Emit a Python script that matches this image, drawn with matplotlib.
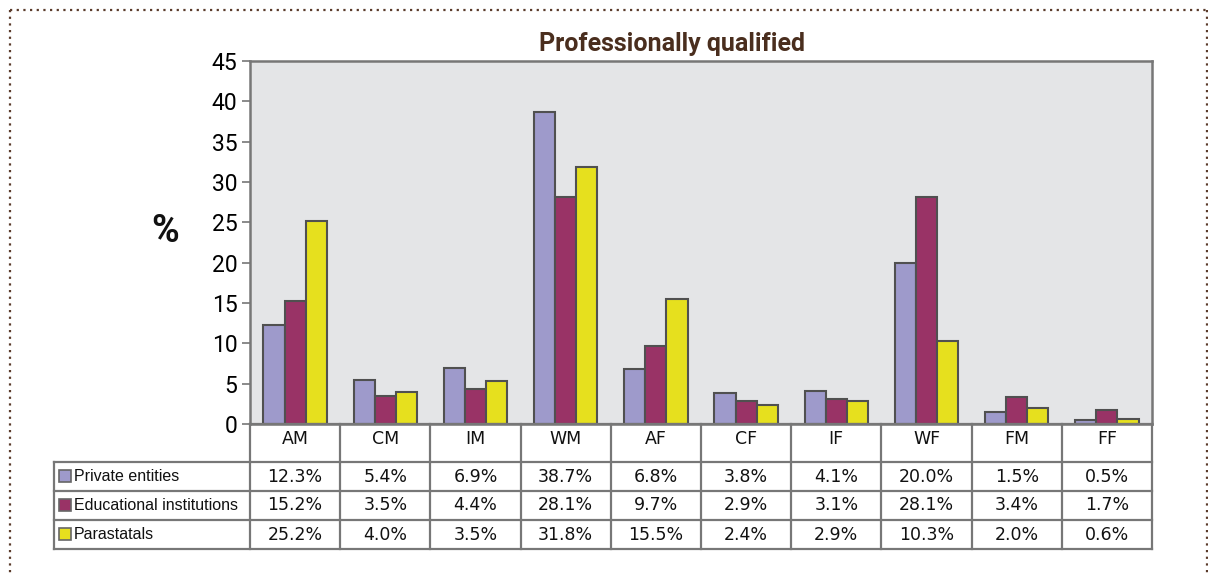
import matplotlib
matplotlib.use("Agg")
import matplotlib.pyplot as plt
from matplotlib.patches import Rectangle
import numpy as np

categories = ["AM", "CM", "IM", "WM", "AF", "CF", "IF", "WF", "FM", "FF"]
series_names = ["Private entities", "Educational institutions", "Parastatals"]
private_vals = [12.3, 5.4, 6.9, 38.7, 6.8, 3.8, 4.1, 20.0, 1.5, 0.5]
edu_vals = [15.2, 3.5, 4.4, 28.1, 9.7, 2.9, 3.1, 28.1, 3.4, 1.7]
para_vals = [25.2, 4.0, 5.3, 31.8, 15.5, 2.4, 2.9, 10.3, 2.0, 0.6]
# table labels as printed in the reference
private_lbl = ["12.3%", "5.4%", "6.9%", "38.7%", "6.8%", "3.8%", "4.1%", "20.0%", "1.5%", "0.5%"]
edu_lbl = ["15.2%", "3.5%", "4.4%", "28.1%", "9.7%", "2.9%", "3.1%", "28.1%", "3.4%", "1.7%"]
para_lbl = ["25.2%", "4.0%", "3.5%", "31.8%", "15.5%", "2.4%", "2.9%", "10.3%", "2.0%", "0.6%"]
yticks = [0, 5, 10, 15, 20, 25, 30, 35, 40, 45]

colors = ["#9e9acb", "#993366", "#e6e01e"]
edge = "#505050"
grid_c = "#777777"
W, H = 1208, 573

fig = plt.figure(figsize=(W / 100, H / 100), dpi=100)
ax = fig.add_axes([250 / W, (H - 424) / H, 902 / W, 363 / H])
ax.set_facecolor("#e4e5e7")

x = np.arange(len(categories))
bw = 0.235
for i, (vals, c) in enumerate(zip([private_vals, edu_vals, para_vals], colors)):
    ax.bar(x + (i - 1) * bw, vals, width=bw, color=c, edgecolor=edge, linewidth=1.5, zorder=3)

ax.set_xlim(-0.5, len(categories) - 0.5)
ax.set_ylim(0, 45)
ax.set_yticks(yticks)
ax.set_xticks([])
cond = ["Roboto", "DejaVu Sans"]
ax.set_yticklabels([str(t) for t in yticks], fontsize=16.5, family=cond)
ax.tick_params(axis="y", length=6, width=1.2, color=grid_c, pad=3)
for s in ax.spines.values():
    s.set_color(grid_c)
    s.set_linewidth(1.8)

# overlay in pixel coords
ov = fig.add_axes([0, 0, 1, 1])
ov.set_xlim(0, W)
ov.set_ylim(H, 0)
ov.axis("off")
ov.patch.set_alpha(0)

# dotted border
bc = "#5b3b2b"
ov.plot([10, 1207], [10, 10], color=bc, lw=1.6, ls=(0, (1, 2)))
ov.plot([10, 10], [10, 573], color=bc, lw=1.6, ls=(0, (1, 2)))
ov.plot([1207, 1207], [10, 573], color=bc, lw=1.6, ls=(0, (1, 2)))

# title and y label
ov.text(672, 44, "Professionally qualified", ha="center", va="center", fontsize=18,
        fontweight="bold", color="#4a2e1e", family=cond)
ov.text(165, 232, "%", ha="center", va="center", fontsize=27, fontweight="bold",
        color="#111111", family=cond)

# table
x0, xa, x1 = 54, 250, 1152
rows_y = [424, 462, 491, 520, 549]
colw = (x1 - xa) / len(categories)
lw = 1.6
ov.plot([xa, x1], [rows_y[0], rows_y[0]], color=grid_c, lw=lw)
for yy in rows_y[1:]:
    ov.plot([x0, x1], [yy, yy], color=grid_c, lw=lw)
ov.plot([x0, x0], [rows_y[1], rows_y[-1]], color=grid_c, lw=lw)
for j in range(len(categories) + 1):
    xx = xa + j * colw
    ov.plot([xx, xx], [rows_y[0], rows_y[-1]], color=grid_c, lw=lw)

tf = ["Liberation Sans", "DejaVu Sans"]
nf = ["DejaVu Sans"]
for j, cat in enumerate(categories):
    cx = xa + (j + 0.5) * colw
    ov.text(cx, (rows_y[0] + rows_y[1]) / 2 - 4, cat, ha="center", va="center",
            fontsize=12.5, color="#111111", family=nf)
for r, (name, lbls, c) in enumerate(zip(series_names, [private_lbl, edu_lbl, para_lbl], colors)):
    cy = (rows_y[r + 1] + rows_y[r + 2]) / 2
    ov.add_patch(Rectangle((59, cy - 6.5), 12, 12, facecolor=c, edgecolor="#666666", lw=1.2))
    ov.text(74, cy, name, ha="left", va="center", fontsize=11.5, color="#111111", family=tf)
    for j, lb in enumerate(lbls):
        cx = xa + (j + 0.5) * colw
        ov.text(cx, cy, lb, ha="center", va="center", fontsize=12.5, color="#111111", family=nf)

fig.savefig("out.png", dpi=100)
